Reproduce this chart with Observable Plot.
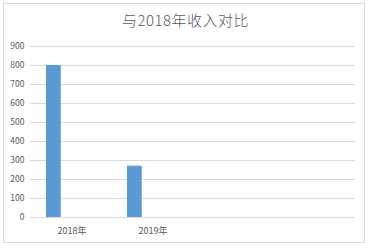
<!DOCTYPE html>
<html>
<head>
<meta charset="utf-8">
<script src="https://cdn.jsdelivr.net/npm/d3@7"></script>
<script src="https://cdn.jsdelivr.net/npm/@observablehq/plot@0.6"></script>
<style>
  html, body { margin: 0; padding: 0; background: #fff; }
  #wrap { position: relative; width: 371px; height: 250px; overflow: hidden; font-family: "Noto Sans CJK SC", "Noto Sans", sans-serif; }
  #frame { position: absolute; left: 3px; top: 3px; width: 362px; height: 240px; border: 1px solid #d9d9d9; box-sizing: border-box; pointer-events: none; }
  #title { position: absolute; left: 0; top: 8px; width: 371px; text-align: center; font-size: 15px; letter-spacing: 0.5px; color: #595959; line-height: 24px; font-weight: 300; }
  #chart { position: absolute; left: 0; top: 35px; }
</style>
</head>
<body>
<div id="wrap">
  <div id="frame"></div>
  <div id="title">与2018年收入对比</div>
  <div id="chart"></div>
</div>
<script>
const categories = ["2018年", "2019年", "c3", "c4"];
const labeledCategories = ["2018年", "2019年"];
const values = [800, 270];
const yTicks = [0, 100, 200, 300, 400, 500, 600, 700, 800, 900];

const data = labeledCategories.map((c, i) => ({category: c, value: values[i]}));

const chart = Plot.plot({
  width: 371,
  height: 215,
  marginTop: 11,
  marginBottom: 33,
  marginLeft: 30,
  marginRight: 16,
  style: {fontFamily: '"Noto Sans CJK SC", "Noto Sans", sans-serif', fontSize: "9px", color: "#595959", background: "transparent"},
  x: {domain: categories, padding: 0, label: null},
  y: {domain: [0, 900], label: null},
  marks: [
    Plot.gridY(yTicks, {stroke: "#d9d9d9", strokeOpacity: 1, strokeWidth: 1}),
    Plot.axisY(yTicks, {tickSize: 0, tickPadding: 6, label: null, fill: "#595959", fontSize: 8.5}),
    Plot.axisX(labeledCategories, {tickSize: 0, tickPadding: 10, label: null, fill: "#595959", fontSize: 9}),
    Plot.barY(data, {x: "category", y: "value", fill: "#5b9bd5", insetLeft: 15, insetRight: 51.25})
  ]
});
document.getElementById("chart").appendChild(chart);
</script>
</body>
</html>
